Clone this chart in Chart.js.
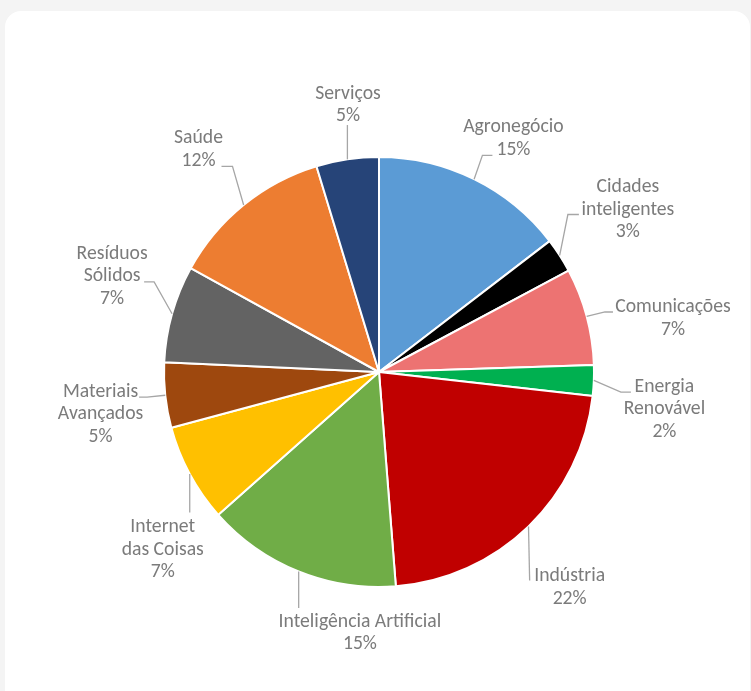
<!DOCTYPE html>
<html>
<head>
<meta charset="utf-8">
<script src="https://cdn.jsdelivr.net/npm/chart.js@4.4.1/dist/chart.umd.min.js"></script>
<style>
  html, body { margin: 0; padding: 0; background: #f4f4f4; width: 751px; height: 691px; overflow: hidden; }
  #card { position: absolute; left: 5px; top: 11px; width: 745px; height: 700px; background: #ffffff; border-radius: 16px; }
  #wrap { position: absolute; left: 0; top: 0; width: 751px; height: 691px; }
</style>
</head>
<body>
<div id="card"></div>
<div id="wrap"><canvas id="chart"></canvas></div>
<script>
// ---- data ----
const categories = [
  'Agronegócio',
  'Cidades\ninteligentes',
  'Comunicações',
  'Energia\nRenovável',
  'Indústria',
  'Inteligência Artificial',
  'Internet\ndas Coisas',
  'Materiais\nAvançados',
  'Resíduos\nSólidos',
  'Saúde',
  'Serviços'
];
const shares = [14.6, 2.6, 7.3, 2.3, 22.0, 14.7, 7.4, 4.9, 7.3, 12.3, 4.7];
const sliceColors = [
  '#5b9bd5', '#000000', '#ed7372', '#00b050', '#c00000',
  '#70ad47', '#ffc000', '#9e480e', '#636363', '#ed7d31', '#264478'
];

// ---- label layout (angle clockwise from top in degrees, distance as fraction of radius,
//      leader end offset from the label-block centre, elbow length; v = vertical leader) ----
const labelLayout = [
  { ang: 29.8,  dist: 1.258, end: [-21, 18],   elbow: 10 },
  { ang: 56.7,  dist: 1.385, end: [-49, 6],    elbow: 11 },
  { ang: 79.4,  dist: 1.391, end: [-60, -5],   elbow: 8 },
  { ang: 97.2,  dist: 1.338, end: [-33.5, -16], elbow: 10 },
  { ang: 138.3, dist: 1.333, end: [-40, -5.5], elbow: 0 },
  { ang: 184.2, dist: 1.212, v: -24 },
  { ang: 230.8, dist: 1.298, v: -36 },
  { ang: 261.6, dist: 1.309, end: [38.5, -16], elbow: 8 },
  { ang: 290.0, dist: 1.321, end: [32, 7],     elbow: 10 },
  { ang: 321.1, dist: 1.337, end: [23, 18],    elbow: 11 },
  { ang: 353.4, dist: 1.257, v: 21.5 }
];
const FONT_SIZE = 19.7;
const LINE_H = 22.5;
const TEXT_COLOR = '#7b7b7b';
const LEADER_COLOR = '#a6a6a6';

const total = shares.reduce((a, b) => a + b, 0);

const outsideLabels = {
  id: 'outsideLabels',
  afterDatasetsDraw(chart) {
    const ctx = chart.ctx;
    const meta = chart.getDatasetMeta(0);
    ctx.save();
    meta.data.forEach((arc, i) => {
      const p = arc.getProps(['x', 'y', 'startAngle', 'endAngle', 'outerRadius'], true);
      const R = p.outerRadius;
      const mid = (p.startAngle + p.endAngle) / 2;
      const ax = p.x + R * Math.cos(mid);
      const ay = p.y + R * Math.sin(mid);
      const L = labelLayout[i];
      const la = L.ang * Math.PI / 180 - Math.PI / 2;
      const cx = p.x + L.dist * R * Math.cos(la);
      const cy = p.y + L.dist * R * Math.sin(la);

      // leader line
      ctx.strokeStyle = LEADER_COLOR;
      ctx.lineWidth = 1.3;
      ctx.beginPath();
      ctx.moveTo(ax, ay);
      if (L.v !== undefined) {
        ctx.lineTo(ax, cy + L.v);
      } else {
        const ex = cx + L.end[0];
        const ey = cy + L.end[1];
        const side = ax < ex ? -1 : 1;
        ctx.lineTo(ex + side * L.elbow, ey);
        ctx.lineTo(ex, ey);
      }
      ctx.stroke();

      // text
      const lines = categories[i].split('\n');
      lines.push(Math.round(shares[i] / total * 100) + '%');
      ctx.fillStyle = TEXT_COLOR;
      ctx.font = FONT_SIZE + 'px Carlito, "Liberation Sans", sans-serif';
      ctx.textAlign = 'center';
      ctx.textBaseline = 'alphabetic';
      const n = lines.length;
      lines.forEach((t, k) => {
        const yy = cy + (k - (n - 1) / 2) * LINE_H + 0.322 * FONT_SIZE;
        ctx.fillText(t, cx, yy);
      });
    });
    ctx.restore();
  }
};

new Chart(document.getElementById('chart'), {
  type: 'pie',
  data: {
    labels: categories,
    datasets: [{
      data: shares,
      backgroundColor: sliceColors,
      borderColor: '#ffffff',
      borderWidth: 2
    }]
  },
  options: {
    responsive: true,
    maintainAspectRatio: false,
    animation: false,
    layout: { padding: { left: 163, right: 156, top: 156, bottom: 103 } },
    plugins: {
      legend: { display: false },
      tooltip: { enabled: false }
    }
  },
  plugins: [outsideLabels]
});
</script>
</body>
</html>
